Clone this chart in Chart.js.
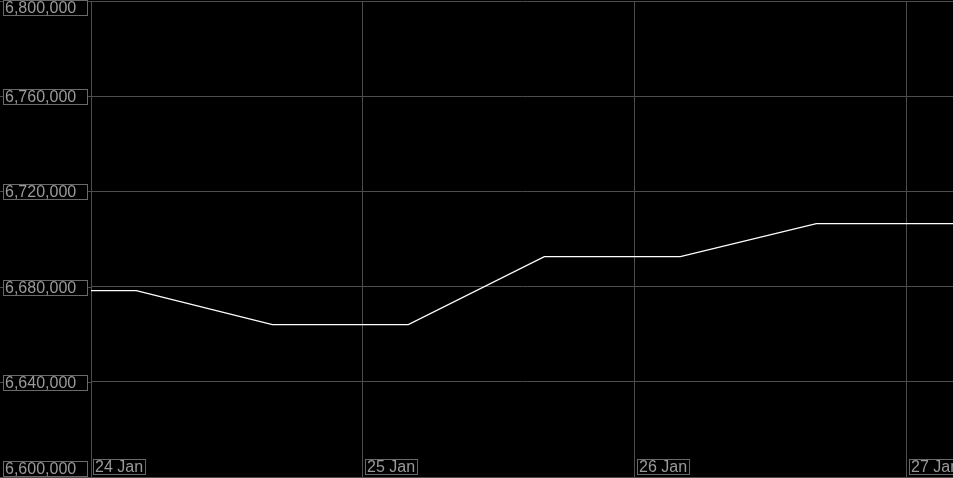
<!DOCTYPE html>
<html>
<head>
<meta charset="utf-8">
<script src="https://cdn.jsdelivr.net/npm/chart.js@4"></script>
<style>
  html, body { margin: 0; padding: 0; background: #000; }
  canvas { display: block; }
</style>
</head>
<body>
<canvas id="chart" width="953" height="478"></canvas>
<script>
// hours counted from 24 Jan 00:00
var hours = [-8, 4, 16, 28, 40, 52, 64, 76, 88];
var values = [6678300, 6678300, 6664000, 6664000, 6692600, 6692600, 6706500, 6706500, 6706500];

var xTickHours = [0, 24, 48, 72];
var xTickLabels = ['24 Jan', '25 Jan', '26 Jan', '27 Jan'];
var yTicks = [6600000, 6640000, 6680000, 6720000, 6760000, 6800000];

var gridColor = '#4d4d4d';
var labelColor = '#9a9a9a';
var boxColor = '#6a6a6a';
var font = '16px "Liberation Sans", Arial, sans-serif';

// boxed tick labels drawn inside the plot, like the original
var boxLabels = {
  id: 'boxLabels',
  afterDraw: function (chart) {
    var ctx = chart.ctx;
    var area = chart.chartArea;
    var x = chart.scales.x, y = chart.scales.y;
    ctx.save();
    ctx.font = font;
    ctx.lineWidth = 1;

    // grid lines continue under the y labels
    ctx.strokeStyle = gridColor;
    yTicks.forEach(function (v) {
      var py = Math.round(y.getPixelForValue(v)) + 0.5;
      ctx.beginPath();
      ctx.moveTo(0, py);
      ctx.lineTo(area.left, py);
      ctx.stroke();
    });

    ctx.textBaseline = 'middle';
    ctx.textAlign = 'left';
    yTicks.forEach(function (v) {
      var py = Math.round(y.getPixelForValue(v));
      var top = py - 7;
      if (top < 0) top = 0;
      if (top + 16 > chart.height - 1) top = chart.height - 17;
      ctx.fillStyle = '#000';
      ctx.fillRect(3, top, 85, 16);
      ctx.strokeStyle = boxColor;
      ctx.strokeRect(3.5, top + 0.5, 84, 15);
      ctx.fillStyle = labelColor;
      ctx.fillText(v.toLocaleString('en-US'), 5, top + 8.5);
    });

    xTickHours.forEach(function (h, i) {
      var px = Math.round(x.getPixelForValue(h));
      var w = ctx.measureText(xTickLabels[i]).width;
      var top = area.bottom - 18;
      ctx.fillStyle = '#000';
      ctx.fillRect(px + 2, top, w + 5, 16);
      ctx.strokeStyle = boxColor;
      ctx.strokeRect(px + 2.5, top + 0.5, w + 4, 15);
      ctx.fillStyle = labelColor;
      ctx.fillText(xTickLabels[i], px + 4, top + 8.5);
    });
    ctx.restore();
  }
};

new Chart(document.getElementById('chart'), {
  type: 'line',
  data: {
    datasets: [{
      data: hours.map(function (h, i) { return { x: h, y: values[i] }; }),
      borderColor: '#ffffff',
      borderWidth: 1.3,
      pointRadius: 0,
      tension: 0,
      fill: false
    }]
  },
  options: {
    responsive: false,
    animation: false,
    layout: { padding: { left: 91, top: 1, right: 0, bottom: 1 } },
    plugins: { legend: { display: false }, tooltip: { enabled: false } },
    scales: {
      x: {
        type: 'linear',
        min: 0,
        max: 76.06,
        afterBuildTicks: function (s) { s.ticks = xTickHours.map(function (v) { return { value: v }; }); },
        ticks: { display: false },
        grid: { color: gridColor, drawTicks: false },
        border: { color: gridColor }
      },
      y: {
        min: 6600000,
        max: 6800000,
        afterBuildTicks: function (s) { s.ticks = yTicks.map(function (v) { return { value: v }; }); },
        ticks: { display: false },
        grid: { color: gridColor, drawTicks: false },
        border: { color: gridColor }
      }
    }
  },
  plugins: [boxLabels]
});
</script>
</body>
</html>
